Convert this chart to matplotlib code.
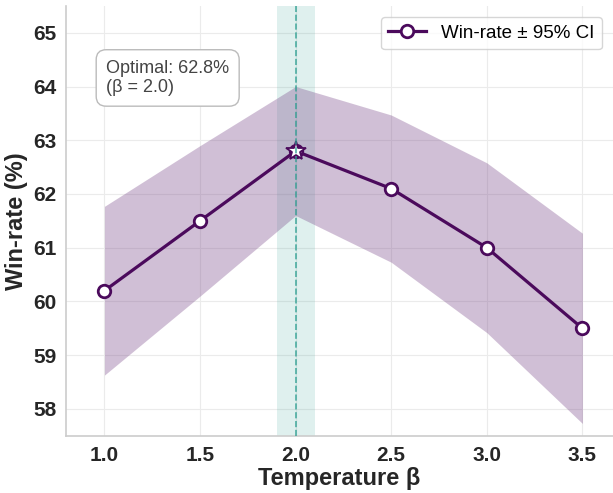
import matplotlib
matplotlib.use("Agg")
import matplotlib.pyplot as plt
import numpy as np

# temperature sweep results
betas = [1.0, 1.5, 2.0, 2.5, 3.0, 3.5]
win_rate = [60.2, 61.5, 62.8, 62.1, 61.0, 59.5]
ci_half = [1.57, 1.4, 1.2, 1.37, 1.58, 1.77]

best_beta = 2.0
best_rate = 62.8

line_color = "#4b0a5c"
teal = "#2a9d8f"

plt.rcParams['font.family'] = ['Liberation Sans', 'DejaVu Sans']

fig, ax = plt.subplots(figsize=(6.13, 4.93), dpi=100)
fig.subplots_adjust(left=0.108, right=1.0, bottom=0.116, top=0.988)

x = np.array(betas)
y = np.array(win_rate)
h = np.array(ci_half)

# highlight optimum
ax.axvspan(best_beta - 0.1, best_beta + 0.1, color=teal, alpha=0.15, lw=0, zorder=1)

ax.fill_between(x, y - h, y + h, color="#7b4a8a", alpha=0.35, lw=0, zorder=2)
ax.plot(x, y, color=line_color, lw=2.3, marker="o", markersize=9,
        markerfacecolor="white", markeredgecolor=line_color, markeredgewidth=2,
        label="Win-rate ± 95% CI", zorder=4)
ax.plot([best_beta], [best_rate], marker="*", markersize=15, color="white",
        markeredgecolor=line_color, markeredgewidth=1.3, zorder=5)
ax.axvline(best_beta, color=teal, ls="--", lw=1.2, alpha=0.8, zorder=6)

ax.text(0.073, 0.875, f"Optimal: {best_rate}%\n(β = {best_beta})",
        transform=ax.transAxes, fontsize=13, color="#444444", va="top",
        linespacing=1.2,
        bbox=dict(boxstyle="round,pad=0.55", facecolor="white", edgecolor="#bbbbbb"))

ax.set_xlim(0.8, 3.66)
ax.set_ylim(57.5, 65.5)
ax.set_xticks(betas)
ax.set_xticklabels([f"{b:.1f}" for b in betas])
ax.set_yticks(range(58, 66))

ax.grid(True, color="#ebebeb", lw=0.8, zorder=0)
ax.set_axisbelow(True)
for s in ["top", "right"]:
    ax.spines[s].set_visible(False)
for s in ["left", "bottom"]:
    ax.spines[s].set_color("#cccccc")
    ax.spines[s].set_linewidth(1.2)
ax.tick_params(length=0, labelsize=15, colors="#262626", pad=7)
for lab in ax.get_xticklabels() + ax.get_yticklabels():
    lab.set_fontweight("bold")

ax.set_xlabel("Temperature β", fontsize=17, fontweight="bold", color="#262626", labelpad=2)
ax.set_ylabel("Win-rate (%)", fontsize=17, fontweight="bold", color="#262626", labelpad=4)

leg = ax.legend(loc="upper right", fontsize=13.5, frameon=True, fancybox=True,
                borderaxespad=0.6)
leg.get_frame().set_edgecolor("#cccccc")

fig.savefig("out.png", dpi=100)
